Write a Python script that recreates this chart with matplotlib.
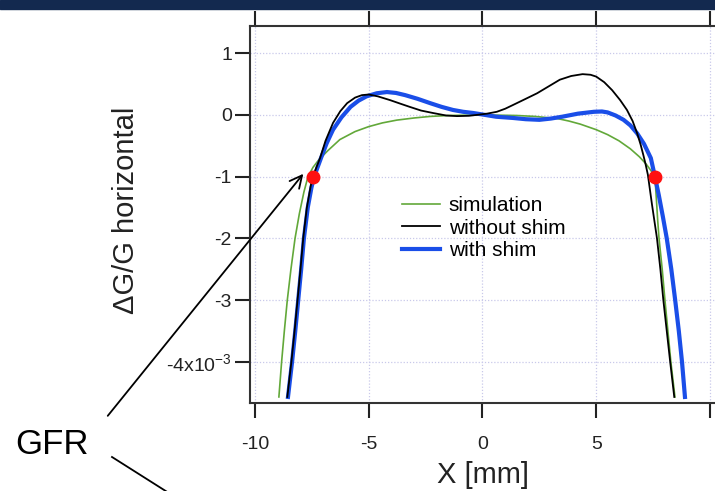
import matplotlib
matplotlib.use("Agg")
import matplotlib.pyplot as plt
from matplotlib.patches import Rectangle
from matplotlib.lines import Line2D

plt.rcParams['font.family'] = ['Liberation Sans', 'DejaVu Sans']
plt.rcParams['mathtext.default'] = 'regular'

# simulation (green)
sim_x = [-8.95, -8.83, -8.71, -8.58, -8.42, -8.24, -8.05, -7.85, -7.67, -7.45, -7.2,
         -6.8, -6.27, -5.6, -5.0, -4.4, -3.77, -3.0, -2.3, -1.5, 0.0, 1.5, 2.3, 3.3,
         3.8, 4.3, 5.0, 5.5, 6.0, 6.5, 6.9, 7.2, 7.4, 7.58, 7.65, 7.7, 7.76, 7.9,
         8.02, 8.15, 8.28, 8.46]
sim_y = [-4.57, -4.0, -3.5, -3.0, -2.5, -2.0, -1.6, -1.25, -1.0, -0.85, -0.73,
         -0.58, -0.4, -0.27, -0.19, -0.13, -0.085, -0.05, -0.025, -0.01, 0.0, -0.01, -0.025, -0.06,
         -0.1, -0.15, -0.24, -0.32, -0.42, -0.55, -0.68, -0.8, -0.9, -1.0, -1.4, -1.7, -2.0, -2.5,
         -3.0, -3.5, -4.0, -4.57]

# without shim (black)
noshim_x = [-8.58, -8.4, -8.26, -8.13, -8.0, -7.88, -7.72, -7.55, -7.45, -7.3, -7.14,
            -6.9, -6.57, -6.25, -5.95, -5.6, -5.3, -5.0, -4.6, -4.07, -3.6, -3.2, -2.7,
            -2.17, -1.6, -1.12, -0.6, -0.24, 0.2, 0.63, 1.0, 1.34, 1.9, 2.4, 2.9, 3.4,
            3.9, 4.4, 4.75, 5.0, 5.35, 5.7, 6.05, 6.35, 6.6, 6.8, 6.95, 7.07, 7.17,
            7.27, 7.45, 7.67, 7.82, 7.95, 8.1, 8.25, 8.43]
noshim_y = [-4.57, -4.0, -3.5, -3.0, -2.5, -2.0, -1.5, -1.15, -1.0, -0.85, -0.7,
            -0.42, -0.13, 0.06, 0.19, 0.28, 0.32, 0.33, 0.3, 0.24, 0.18, 0.13, 0.07,
            0.03, -0.01, -0.02, -0.015, 0.0, 0.02, 0.05, 0.1, 0.16, 0.26, 0.35, 0.46, 0.57,
            0.63, 0.66, 0.65, 0.62, 0.53, 0.4, 0.24, 0.08, -0.1, -0.3, -0.48, -0.65, -0.8,
            -0.97, -1.45, -2.0, -2.5, -3.0, -3.5, -4.0, -4.57]

# with shim (blue)
shim_x = [-8.55, -8.37, -8.23, -8.1, -7.97, -7.85, -7.68, -7.52, -7.4, -7.25, -7.1,
          -6.85, -6.57, -6.2, -5.8, -5.45, -5.1, -4.65, -4.2, -3.8, -3.4, -2.85, -2.3,
          -1.8, -1.3, -0.85, -0.4, 0.1, 0.6, 1.34, 1.9, 2.5, 3.0, 3.5, 4.2, 4.9, 5.25,
          5.5, 5.85, 6.2, 6.5, 6.8, 7.1, 7.4, 7.58, 7.75, 7.93, 8.1, 8.3, 8.47, 8.63,
          8.77, 8.9]
shim_y = [-4.57, -4.0, -3.5, -3.0, -2.5, -2.0, -1.5, -1.18, -1.0, -0.85, -0.7,
          -0.46, -0.24, -0.04, 0.13, 0.23, 0.3, 0.35, 0.37, 0.355, 0.32, 0.26, 0.19,
          0.13, 0.08, 0.05, 0.03, 0.0, -0.03, -0.05, -0.07, -0.08, -0.06, -0.03, 0.02, 0.05, 0.055,
          0.04, -0.01, -0.08, -0.17, -0.3, -0.47, -0.7, -1.0, -1.3, -1.65, -2.0, -2.5, -3.0, -3.5,
          -4.0, -4.57]

# GFR points
gfr_x = [-7.45, 7.57]
gfr_y = [-1.0, -1.0]

xticks = [-10, -5, 0, 5, 10]
xticklabels = ['-10', '-5', '0', '5', '']
yticks = [1, 0, -1, -2, -3, -4]
yticklabels = ['1', '0', '-1', '-2', '-3', '-4x10$^{-3}$']

W, H = 715, 491
fig = plt.figure(figsize=(W / 100, H / 100), dpi=100)
ax = fig.add_axes([250 / W, 1 - 402.5 / H, 466.8 / W, 376.5 / H])

ax.plot(sim_x, sim_y, color='#62a839', lw=1.2, label='simulation', zorder=3)
ax.plot(shim_x, shim_y, color='#1a4ee8', lw=3.0, label='with shim', zorder=4)
ax.plot(noshim_x, noshim_y, color='black', lw=1.3, label='without shim', zorder=5)
ax.plot(gfr_x, gfr_y, 'o', color='#ff1010', ms=9, zorder=6)

ax.set_xlim(-10.22, 10.3)
ax.set_ylim(-4.66, 1.44)

ax.set_xticks(xticks)
ax.set_xticklabels(xticklabels)
ax.set_yticks(yticks)
ax.set_yticklabels(yticklabels)
ax.tick_params(axis='x', which='both', direction='out', length=11, width=1.5,
               top=True, labeltop=False, labelsize=14, pad=13, colors='#222222')
ax.tick_params(axis='y', direction='out', length=11, width=1.5, labelsize=14,
               pad=2, colors='#222222')
for side in ['left', 'bottom', 'top']:
    ax.spines[side].set_linewidth(1.5)
    ax.spines[side].set_color('#333333')
ax.spines['right'].set_visible(False)

ax.grid(True, color='#c9c9ea', linestyle=(0, (1, 1.5)), lw=0.9)

ax.set_xlabel('X [mm]', fontsize=21, color='#222222')
ax.xaxis.set_label_coords(0.5, -0.155)
ax.set_ylabel('ΔG/G horizontal', fontsize=21, color='#222222')
ax.yaxis.set_label_coords(-0.235, 0.51)

# legend in the order of the reference
handles, labels = ax.get_legend_handles_labels()
order = [0, 2, 1]
ax.legend([handles[i] for i in order], [labels[i] for i in order],
          loc='upper left', bbox_to_anchor=(402 / W, 1 - 196 / H),
          bbox_transform=fig.transFigure, frameon=False, fontsize=15,
          handlelength=1.8, handletextpad=0.45, labelspacing=0.18,
          borderpad=0, borderaxespad=0)

# dark banner at the top
fig.add_artist(Rectangle((0, 1 - 9 / H), 1, 9 / H, transform=fig.transFigure,
                         color='#13294f', zorder=10))

# GFR annotation
fig.text(52 / W, 1 - 445 / H, 'GFR', fontsize=25, ha='center', va='center')
ax.annotate('', xy=(-7.8, -0.92), xycoords='data',
            xytext=(106, H - 418), textcoords='figure pixels',
            arrowprops=dict(arrowstyle='->', lw=1.3, color='black', mutation_scale=22),
            annotation_clip=False)
fig.add_artist(Line2D([112 / W, 172 / W], [(H - 457) / H, -4 / H],
                      transform=fig.transFigure, color='black', lw=1.3))

fig.savefig('out.png', dpi=100)
